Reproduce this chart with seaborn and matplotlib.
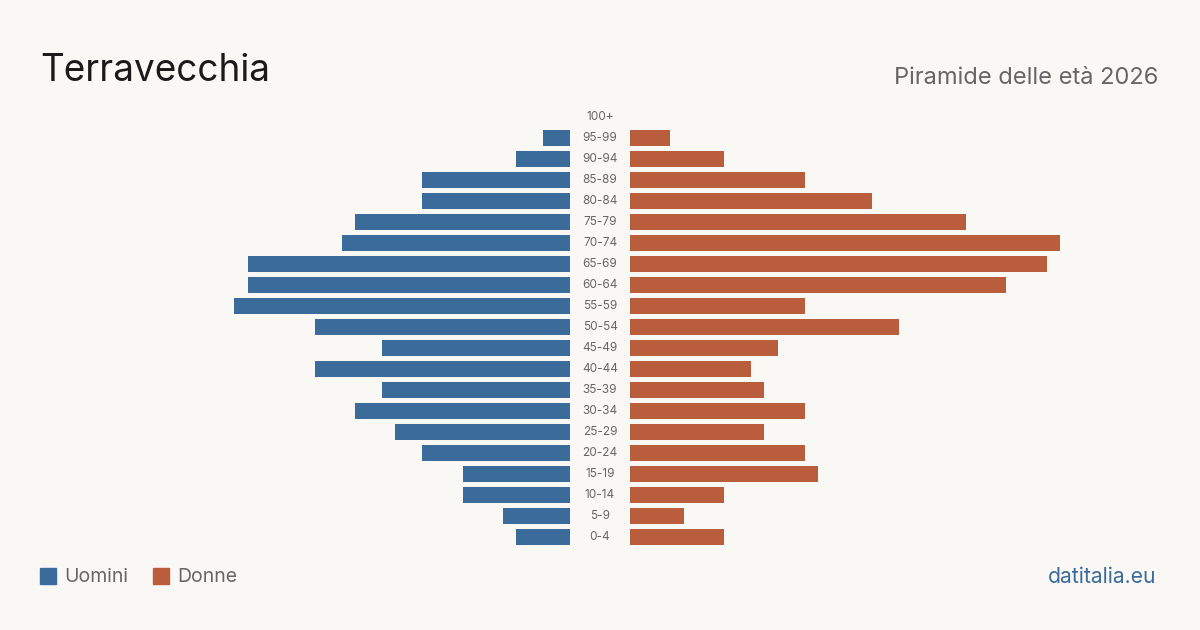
import matplotlib
matplotlib.use("Agg")
import matplotlib.pyplot as plt
import matplotlib.transforms as mtransforms
from matplotlib.patches import Rectangle
import seaborn as sns
import pandas as pd

age_groups = ["100+", "95-99", "90-94", "85-89", "80-84", "75-79", "70-74", "65-69",
              "60-64", "55-59", "50-54", "45-49", "40-44", "35-39", "30-34", "25-29",
              "20-24", "15-19", "10-14", "5-9", "0-4"]
men = [0, 2, 4, 11, 11, 16, 17, 24, 24, 25, 19, 14, 19, 14, 16, 13, 11, 8, 8, 5, 4]
women = [0, 3, 7, 13, 18, 25, 32, 31, 28, 13, 20, 11, 9, 10, 13, 10, 13, 14, 7, 4, 7]

title = "Terravecchia"
subtitle = "Piramide delle età 2026"
legend_labels = ["Uomini", "Donne"]
source = "datitalia.eu"

BG = "#f9f8f4"
BLUE = "#3b6b9b"
ORANGE = "#b95d3d"
GRAY = "#666666"

sns.set_theme(style="white")
plt.rcParams["font.family"] = ["Inter", "DejaVu Sans"]

df = pd.DataFrame({"age": age_groups, "men": men, "women": women})

fig = plt.figure(figsize=(12, 6.3), dpi=100, facecolor=BG)
bottom = 1 - 547.5 / 630
height = 441 / 630
axL = fig.add_axes([140 / 1200, bottom, 430 / 1200, height])
axR = fig.add_axes([630 / 1200, bottom, 430 / 1200, height])

sns.barplot(data=df, y="age", x="men", order=age_groups, color=BLUE, ax=axL,
            width=0.8, saturation=1, orient="h", linewidth=0, edgecolor="none")
sns.barplot(data=df, y="age", x="women", order=age_groups, color=ORANGE, ax=axR,
            width=0.8, saturation=1, orient="h", linewidth=0, edgecolor="none")

xmax = max(max(men), max(women))
axL.set_xlim(xmax, 0)
axR.set_xlim(0, xmax)
for ax in (axL, axR):
    ax.set_ylim(len(age_groups) - 0.5, -0.5)
    ax.set_facecolor("none")
    ax.axis("off")

trans = mtransforms.blended_transform_factory(fig.transFigure, axR.transData)
for i, lab in enumerate(age_groups):
    fig.text(0.5, i, lab, transform=trans, ha="center", va="center",
             fontsize=8.5, color=GRAY)

fig.text(40 / 1200, 1 - 81 / 630, title, fontsize=26.6, color="#1a1a1a",
         ha="left", va="baseline")
fig.text(1158 / 1200, 1 - 84 / 630, subtitle, fontsize=17, color=GRAY,
         ha="right", va="baseline")

# legend
for lab, col, x0 in zip(legend_labels, [BLUE, ORANGE], [40, 153]):
    fig.patches.append(Rectangle((x0 / 1200, 1 - 584 / 630), 16 / 1200, 16 / 630,
                                 transform=fig.transFigure, color=col, figure=fig))
    fig.text((x0 + 24) / 1200, 1 - 577 / 630, lab, fontsize=14, color=GRAY,
             ha="left", va="center")

fig.text(1156 / 1200, 1 - 577 / 630, source, fontsize=15.2, color=BLUE,
         ha="right", va="center")

fig.savefig("out.png", dpi=100, facecolor=BG)
